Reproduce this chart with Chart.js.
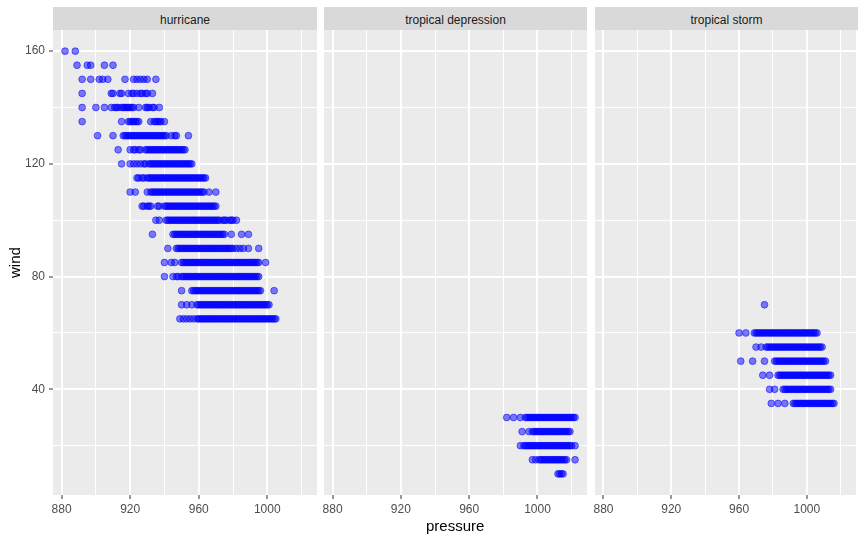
<!DOCTYPE html>
<html>
<head>
<meta charset="utf-8">
<script src="https://cdn.jsdelivr.net/npm/chart.js@4.4.0/dist/chart.umd.min.js"></script>
<style>
body { margin:0; background:#FFFFFF; width:866px; height:540px; overflow:hidden; position:relative; font-family:"Liberation Sans", Arial, sans-serif; }
canvas { position:absolute; top:15px; }
.strip { position:absolute; top:7px; height:20px; padding-top:3px; line-height:20px; background:#D9D9D9; color:#1A1A1A; font-size:12px; text-align:center; }
.title { position:absolute; font-size:15px; font-weight:400; color:#000000; white-space:nowrap; line-height:17px; }
</style>
</head>
<body>
<div class="strip" style="left:53px;width:264px;">hurricane</div>
<div class="strip" style="left:324px;width:263px;">tropical depression</div>
<div class="strip" style="left:595px;width:263px;">tropical storm</div>
<canvas id="c1" width="327" height="525" style="left:0px;"></canvas>
<canvas id="c2" width="283" height="525" style="left:314px;"></canvas>
<canvas id="c3" width="281" height="525" style="left:585px;"></canvas>
<div class="title" style="left:6px;top:248px;height:30px;writing-mode:vertical-rl;transform:rotate(180deg);">wind</div>
<div class="title" style="left:426px;top:517px;">pressure</div>
<script>
var xTicks = [880, 900, 920, 940, 960, 980, 1000, 1020];
var yTicks = [20, 40, 60, 80, 100, 120, 140, 160];

// hurricane: one pressure list per wind level
var hurricaneWind = [160, 155, 150, 145, 140, 135, 130, 125, 120, 115, 110, 105, 100, 95, 90, 85, 80, 75, 70, 65];
var hurricanePressure = [
	[882, 888],
	[889, 895, 897, 905, 910],
	[892, 897, 902, 904, 907, 917, 922, 924, 926, 928, 930, 935],
	[892, 909, 910, 914, 915, 919, 921, 922, 924, 926, 927, 929, 930, 933],
	[892, 900, 905, 909, 911, 912, 913, 915, 916, 917, 918, 919, 920, 921, 922, 925, 929, 930, 931, 933, 934, 937],
	[892, 915, 919, 920, 921, 922, 923, 924, 925, 932, 934, 935, 936, 937, 938, 940],
	[901, 910, 916, 917, 918, 919, 920, 921, 922, 923, 924, 925, 926, 927, 928, 929, 930, 931, 932, 933, 934, 935, 936, 937, 938, 939, 940, 941, 944, 946, 947, 954],
	[913, 920, 922, 923, 925, 926, 929, 930, 931, 932, 933, 934, 935, 936, 937, 938, 939, 940, 941, 942, 943, 944, 945, 946, 947, 948, 949, 950, 951, 952],
	[915, 920, 922, 924, 926, 928, 929, 931, 932, 933, 934, 935, 936, 937, 938, 939, 940, 941, 942, 943, 944, 945, 946, 947, 948, 949, 950, 951, 952, 953, 954, 955, 956],
	[924, 925, 927, 928, 930, 931, 932, 933, 934, 935, 936, 937, 938, 939, 940, 941, 942, 943, 944, 945, 946, 947, 948, 949, 950, 951, 952, 953, 954, 955, 956, 957, 958, 959, 960, 961, 962, 963, 964],
	[920, 923, 930, 932, 933, 934, 935, 936, 937, 938, 939, 940, 941, 942, 943, 944, 945, 946, 947, 948, 949, 950, 951, 952, 953, 954, 955, 956, 957, 958, 959, 960, 961, 962, 963, 966, 970],
	[927, 928, 930, 931, 932, 936, 937, 940, 941, 942, 943, 944, 945, 946, 947, 948, 949, 950, 951, 952, 953, 954, 955, 956, 957, 958, 959, 960, 961, 962, 963, 964, 965, 966, 967, 968, 969, 970],
	[935, 937, 941, 942, 943, 944, 945, 946, 947, 948, 949, 950, 951, 952, 953, 954, 955, 956, 957, 958, 959, 960, 961, 962, 963, 964, 965, 966, 967, 968, 969, 970, 971, 972, 974, 975, 976, 978, 979, 980, 982],
	[933, 945, 946, 947, 948, 949, 950, 951, 952, 953, 954, 955, 956, 957, 958, 959, 960, 961, 962, 963, 964, 965, 966, 967, 968, 969, 970, 971, 972, 973, 974, 975, 979, 985, 989],
	[942, 947, 948, 949, 950, 951, 952, 953, 954, 955, 956, 957, 958, 959, 960, 961, 962, 963, 964, 965, 966, 967, 968, 969, 970, 971, 972, 973, 974, 975, 976, 977, 978, 979, 980, 982, 984, 986, 989, 995],
	[940, 944, 946, 950, 951, 952, 953, 954, 955, 956, 957, 958, 959, 960, 961, 962, 963, 964, 965, 966, 967, 968, 969, 970, 971, 972, 973, 974, 975, 976, 977, 978, 979, 980, 981, 982, 983, 984, 985, 986, 987, 988, 989, 990, 991, 992, 993, 994, 995, 999],
	[940, 945, 947, 948, 950, 951, 952, 953, 954, 955, 956, 957, 958, 959, 960, 961, 962, 963, 964, 965, 966, 967, 968, 969, 970, 971, 972, 973, 974, 975, 976, 977, 978, 979, 980, 981, 982, 983, 984, 985, 986, 987, 988, 989, 990, 991, 992, 993, 994, 995],
	[950, 956, 957, 958, 959, 960, 961, 962, 963, 964, 965, 966, 967, 968, 969, 970, 971, 972, 973, 974, 975, 976, 977, 978, 979, 980, 981, 982, 983, 984, 985, 986, 987, 988, 989, 990, 991, 992, 993, 994, 995, 996, 1004],
	[950, 953, 956, 959, 960, 961, 962, 963, 964, 965, 966, 967, 968, 969, 970, 971, 972, 973, 974, 975, 976, 977, 978, 979, 980, 981, 982, 983, 984, 985, 986, 987, 988, 989, 990, 991, 992, 993, 994, 995, 996, 997, 998, 999, 1000, 1001],
	[949, 951, 953, 955, 957, 959, 960, 961, 962, 963, 964, 965, 966, 967, 968, 969, 970, 971, 972, 973, 974, 975, 976, 977, 978, 979, 980, 981, 982, 983, 984, 985, 986, 987, 988, 989, 990, 991, 992, 993, 994, 995, 996, 997, 998, 999, 1000, 1001, 1002, 1003, 1004, 1005]
];

var depressionWind = [30, 25, 20, 15, 10];
var depressionPressure = [
	[982, 986, 990, 993, 994, 995, 996, 997, 998, 999, 1000, 1001, 1002, 1003, 1004, 1005, 1006, 1007, 1008, 1009, 1010, 1011, 1012, 1013, 1014, 1015, 1016, 1017, 1018, 1019, 1020, 1021, 1022],
	[991, 995, 997, 998, 999, 1000, 1001, 1002, 1003, 1004, 1005, 1006, 1007, 1008, 1009, 1010, 1011, 1012, 1013, 1014, 1015, 1016, 1017, 1018, 1019],
	[990, 992, 993, 994, 995, 996, 997, 998, 999, 1000, 1001, 1002, 1003, 1004, 1005, 1006, 1007, 1008, 1009, 1010, 1011, 1012, 1013, 1014, 1015, 1016, 1017, 1018, 1019, 1020, 1022],
	[997, 999, 1001, 1002, 1003, 1004, 1005, 1006, 1007, 1008, 1009, 1010, 1011, 1012, 1013, 1014, 1015, 1016, 1017, 1022],
	[1012, 1013, 1014, 1015]
];

var stormWind = [70, 60, 55, 50, 45, 40, 35];
var stormPressure = [
	[975],
	[960, 964, 969, 970, 971, 972, 973, 974, 975, 976, 977, 978, 979, 980, 981, 982, 983, 984, 985, 986, 987, 988, 989, 990, 991, 992, 993, 994, 995, 996, 997, 998, 999, 1000, 1001, 1002, 1003, 1004, 1005, 1006],
	[970, 973, 976, 977, 978, 979, 980, 981, 982, 983, 984, 985, 986, 987, 988, 989, 990, 991, 992, 993, 994, 995, 996, 997, 998, 999, 1000, 1001, 1002, 1003, 1004, 1005, 1006, 1007, 1008, 1009],
	[961, 968, 975, 981, 982, 983, 984, 985, 986, 987, 988, 989, 990, 991, 992, 993, 994, 995, 996, 997, 998, 999, 1000, 1001, 1002, 1003, 1004, 1005, 1006, 1007, 1008, 1009, 1010, 1011],
	[974, 978, 983, 984, 985, 986, 987, 988, 989, 990, 991, 992, 993, 994, 995, 996, 997, 998, 999, 1000, 1001, 1002, 1003, 1004, 1005, 1006, 1007, 1008, 1009, 1010, 1011, 1012, 1013, 1014],
	[978, 981, 986, 987, 988, 989, 990, 991, 992, 993, 994, 995, 996, 997, 998, 999, 1000, 1001, 1002, 1003, 1004, 1005, 1006, 1007, 1008, 1009, 1010, 1011, 1012, 1013, 1014],
	[979, 983, 987, 992, 993, 994, 995, 996, 997, 998, 999, 1000, 1001, 1002, 1003, 1004, 1005, 1006, 1007, 1008, 1009, 1010, 1011, 1012, 1013, 1014, 1015, 1016]
];

function makePoints(winds, pressures) {
	var pts = [];
	for (var i in winds) {
		for (var j in pressures[i]) {
			pts.push({x: pressures[i][j], y: winds[i]});
		}
	}
	return pts;
}

var panelBg = {
	id: 'panelBg',
	beforeDraw: function(chart) {
		var a = chart.chartArea;
		var ctx = chart.ctx;
		ctx.save();
		ctx.fillStyle = '#EBEBEB';
		ctx.fillRect(a.left, a.top, a.right - a.left, a.bottom - a.top);
		ctx.restore();
	}
};

function isMajor(c) {
	return c.tick && c.tick.value % 40 === 0;
}

function makeChart(id, points, showY) {
	var font = {family: '"Liberation Sans", Arial, sans-serif', size: 12};
	new Chart(document.getElementById(id), {
		type: 'scatter',
		data: {
			datasets: [{
				data: points,
				backgroundColor: 'rgba(0, 0, 255, 0.5)',
				borderColor: 'rgba(0, 0, 255, 0.5)',
				borderWidth: 1,
				pointRadius: 3.4,
				pointHoverRadius: 3.4
			}]
		},
		options: {
			responsive: false,
			animation: false,
			events: [],
			layout: {padding: {top: 15, bottom: 0, left: showY ? 0 : 10, right: 10}},
			plugins: {legend: {display: false}, tooltip: {enabled: false}},
			scales: {
				x: {
					type: 'linear',
					min: 875,
					max: 1029,
					afterBuildTicks: function(s) { s.ticks = xTicks.map(function(v) { return {value: v}; }); },
					afterFit: function(s) { s.height = 45; },
					border: {display: false},
					grid: {
						color: '#FFFFFF',
						lineWidth: function(c) { return isMajor(c) ? 2 : 1; },
						tickLength: 4,
						tickWidth: 1,
						tickColor: function(c) { return isMajor(c) ? '#333333' : 'rgba(0,0,0,0)'; }
					},
					ticks: {
						callback: function(v) { return v % 40 === 0 ? String(v) : ''; },
						color: '#4D4D4D',
						font: font,
						padding: 3,
						maxRotation: 0,
						minRotation: 0,
						autoSkip: false
					}
				},
				y: {
					type: 'linear',
					min: 2.5,
					max: 167.5,
					afterBuildTicks: function(s) { s.ticks = yTicks.map(function(v) { return {value: v}; }); },
					afterFit: function(s) { s.width = showY ? 53 : 0; },
					border: {display: false},
					grid: {
						color: '#FFFFFF',
						lineWidth: function(c) { return isMajor(c) ? 2 : 1; },
						drawTicks: showY,
						tickLength: 4,
						tickWidth: 1,
						tickColor: function(c) { return isMajor(c) ? '#333333' : 'rgba(0,0,0,0)'; }
					},
					ticks: {
						display: showY,
						callback: function(v) { return v % 40 === 0 ? String(v) : ''; },
						color: '#4D4D4D',
						font: font,
						padding: 4,
						autoSkip: false
					}
				}
			}
		},
		plugins: [panelBg]
	});
}

makeChart('c1', makePoints(hurricaneWind, hurricanePressure), true);
makeChart('c2', makePoints(depressionWind, depressionPressure), false);
makeChart('c3', makePoints(stormWind, stormPressure), false);
</script>
</body>
</html>
